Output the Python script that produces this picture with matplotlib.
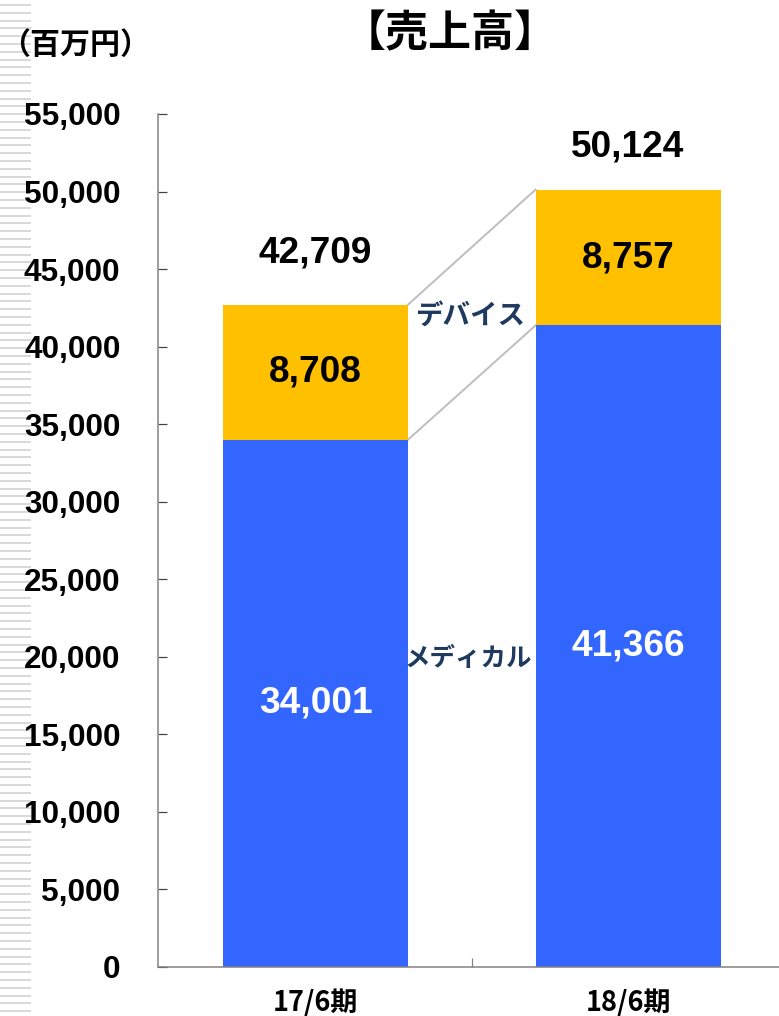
import matplotlib
matplotlib.use("Agg")
import matplotlib.pyplot as plt
from matplotlib.lines import Line2D
import numpy as np

# ---- data ----
categories = ["17/6期", "18/6期"]
medical = [34001, 41366]
device = [8708, 8757]
totals = [42709, 50124]
yticks = list(range(0, 55001, 5000))
segment_names = ["デバイス", "メディカル"]

LAT = ["Liberation Sans", "Noto Sans CJK JP", "DejaVu Sans"]
CJK = ["Noto Sans CJK JP", "Liberation Sans", "DejaVu Sans"]
plt.rcParams["font.family"] = LAT

BLUE = "#3366FF"
YELLOW = "#FFC000"
NAVY = "#1F3A5F"
GRAY = "#BFBFBF"

W, H = 779, 1016
fig = plt.figure(figsize=(W / 100, H / 100), dpi=100)
px = 72 / 100  # points per pixel

# decorative striped left edge
for yy in np.arange(1016 - 5, 0, -7.8):
    fig.add_artist(Line2D([0, 30 / W], [yy / H, yy / H], transform=fig.transFigure,
                          color="#D9D9D9", lw=2 * px, zorder=-5))

ax = fig.add_axes([158 / W, 1 - 967 / H, 1 - 158 / W, (967 - 114) / H])
ax.set_facecolor("none")
ax.set_zorder(1)
x = np.arange(len(categories))
bw = 0.592

ax.bar(x, medical, bw, color=BLUE, zorder=2)
ax.bar(x, device, bw, bottom=medical, color=YELLOW, zorder=2)

# connector lines
ax.plot([x[0] + bw / 2, x[1] - bw / 2], [totals[0], totals[1]], color=GRAY, lw=2 * px, zorder=1)
ax.plot([x[0] + bw / 2, x[1] - bw / 2], [medical[0], medical[1]], color=GRAY, lw=2 * px, zorder=1)

ax.set_xlim(-0.504, 1.483)
ax.set_ylim(0, 55000)

# value labels
for i in range(len(categories)):
    ax.text(x[i], medical[i] / 2, f"{medical[i]:,}", ha="center", va="center",
            color="white", fontsize=37 * px, fontweight="bold", zorder=3)
    ax.text(x[i], medical[i] + device[i] / 2, f"{device[i]:,}", ha="center", va="center",
            color="black", fontsize=37 * px, fontweight="bold", zorder=3)
tot_off = [52, 43]
for i in range(len(categories)):
    ax.annotate(f"{totals[i]:,}", (x[i], totals[i]), xytext=(0, tot_off[i] * px),
                textcoords="offset points", ha="center", va="center",
                color="black", fontsize=37 * px, fontweight="bold")

# segment names
ax.text((470 - 158) / (W - 158), (967 - 316) / (967 - 114), segment_names[0],
        transform=ax.transAxes, ha="center", va="center", color=NAVY,
        fontsize=27.5 * px, fontweight="bold", family=CJK)
ax.text((468 - 158) / (W - 158), (967 - 658) / (967 - 114), segment_names[1],
        transform=ax.transAxes, ha="center", va="center", color=NAVY,
        fontsize=25.5 * px, fontweight="bold", family=CJK)

# axes styling
for s in ["top", "right"]:
    ax.spines[s].set_visible(False)
for s in ["left", "bottom"]:
    ax.spines[s].set_color("#808080")
    ax.spines[s].set_linewidth(1.5 * px)

ax.set_yticks(yticks)
ax.set_yticklabels([f"{v:,}" for v in yticks])
ax.tick_params(axis="y", direction="in", length=9 * px, width=1.2 * px, color="#404040",
               pad=27, labelsize=31.5 * px)
for lab in ax.get_yticklabels():
    lab.set_fontweight("bold")

ax.set_xticks(x)
ax.set_xticklabels(categories, family=CJK, fontweight="bold", fontsize=27 * px)
ax.tick_params(axis="x", which="major", length=0, pad=16)
ax.set_xticks([0.5], minor=True)
ax.tick_params(axis="x", which="minor", direction="in", length=9 * px, width=1.2 * px,
               color="#808080")

# title and unit
fig.text(450 / W, 1 - 33 / H, "【売上高】", ha="center", va="center",
         fontsize=43 * px, fontweight="bold", family=CJK)
fig.text(0, 1 - 45 / H, "（百万円）", ha="left", va="center",
         fontsize=30 * px, fontweight="bold", family=CJK)

fig.savefig("out.png", dpi=100)
